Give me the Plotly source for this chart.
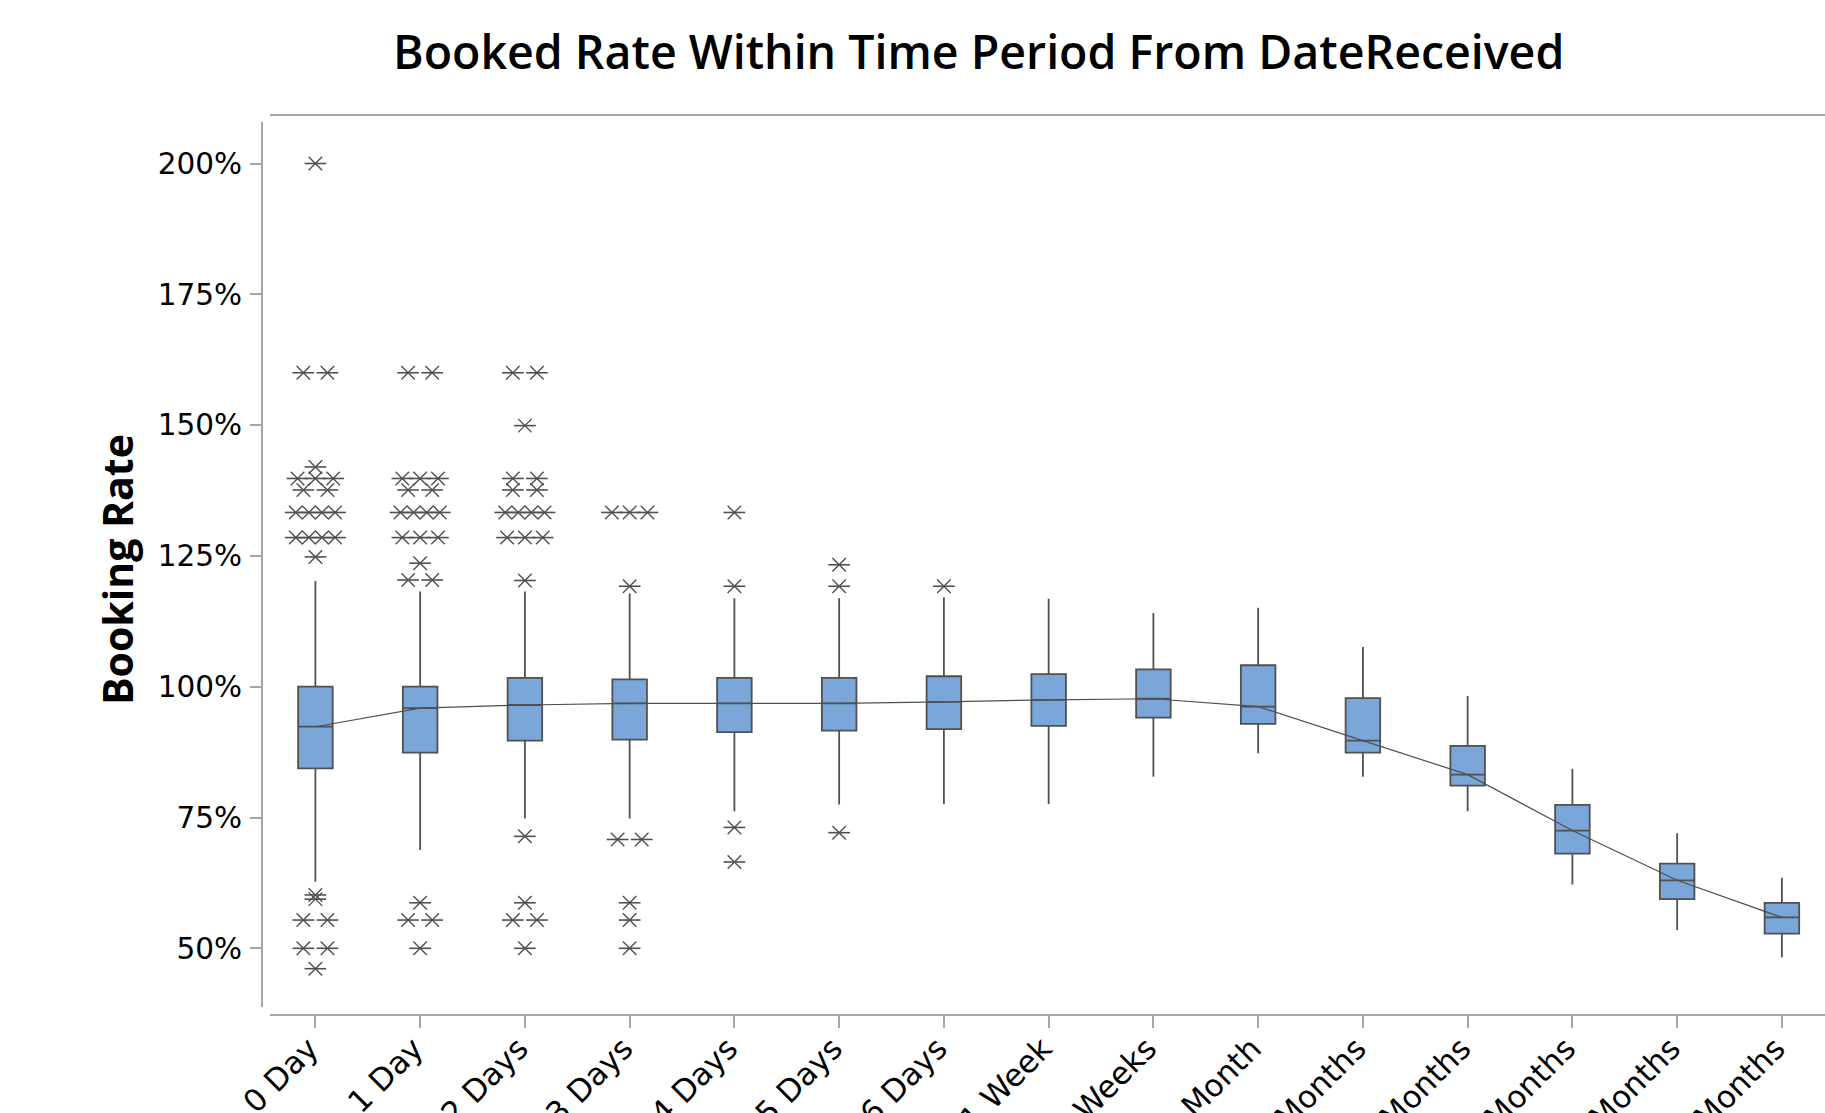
import plotly.graph_objects as go

# ---------------- data ----------------
categories = ["0 Day", "1 Day", "2 Days", "3 Days", "4 Days", "5 Days", "6 Days",
              "1 Week", "2 Weeks", "1 Month", "2 Months", "3 Months", "4 Months",
              "5 Months", "6 Months"]
q1 = [84.4, 87.4, 89.7, 89.9, 91.3, 91.6, 91.9, 92.5, 94.1, 92.9, 87.4, 81.1, 68.1, 59.4, 52.8]
median = [92.35, 95.9, 96.5, 96.8, 96.8, 96.8, 97.1, 97.5, 97.7, 96.2, 89.7, 83.2, 72.5, 63.0, 55.9]
q3 = [100.0, 100.0, 101.7, 101.4, 101.7, 101.7, 102.0, 102.4, 103.3, 104.1, 97.8, 88.7, 77.4, 66.2, 58.7]
whisker_low = [62.7, 68.8, 74.8, 74.8, 76.2, 77.5, 77.6, 77.6, 82.8, 87.3, 82.8, 76.2, 62.2, 53.5, 48.3]
whisker_high = [120.2, 118.2, 118.2, 117.8, 116.9, 116.9, 117.1, 116.8, 114.1, 115.1, 107.6, 98.2, 84.3, 72.0, 63.5]

# outliers: category index, value (%), number of identical points
outlier_cat = [0, 0, 0, 0, 0, 0, 0, 0, 0, 0, 0, 0, 0,
               1, 1, 1, 1, 1, 1, 1, 1, 1, 1,
               2, 2, 2, 2, 2, 2, 2, 2, 2, 2, 2,
               3, 3, 3, 3, 3, 3,
               4, 4, 4, 4,
               5, 5, 5,
               6]
outlier_val = [200.0, 160.0, 142.0, 139.8, 137.6, 133.3, 128.5, 124.8, 60.2, 59.4, 55.4, 50.0, 46.1,
               160.0, 139.8, 137.6, 133.3, 128.5, 123.6, 120.4, 58.7, 55.4, 50.0,
               160.0, 149.9, 139.8, 137.6, 133.3, 128.5, 120.3, 71.4, 58.7, 55.4, 50.0,
               133.3, 119.2, 70.8, 58.7, 55.4, 50.0,
               133.3, 119.2, 73.1, 66.5,
               123.3, 119.2, 72.1,
               119.2]
outlier_n = [1, 2, 1, 3, 2, 4, 4, 1, 1, 1, 2, 2, 1,
             2, 3, 2, 4, 3, 1, 2, 1, 2, 1,
             2, 1, 2, 2, 4, 3, 1, 1, 1, 2, 1,
             3, 1, 2, 1, 1, 1,
             1, 1, 1, 1,
             1, 1, 1,
             1]

y_tick_vals = [50, 75, 100, 125, 150, 175, 200]
y_tick_text = ["50%", "75%", "100%", "125%", "150%", "175%", "200%"]

title_text = "Booked Rate Within Time Period From DateReceived"
y_title = "Booking Rate"

# ---------------- layout constants ----------------
W, H = 1825, 1113
ML, MR, MT, MB = 262, 0, 115, 98
PW, PH = W - ML - MR, H - MT - MB

# dodge identical outliers side by side
spacing = {1: 0.0, 2: 0.23, 3: 0.17, 4: 0.125}
ox, oy = [], []
for c, v, n in zip(outlier_cat, outlier_val, outlier_n):
    for k in range(n):
        ox.append(c + (k - (n - 1) / 2) * spacing[n])
        oy.append(v)

xpos = list(range(len(categories)))
ink = "#505050"

fig = go.Figure()
fig.add_trace(go.Box(
    x=xpos, q1=q1, median=median, q3=q3,
    lowerfence=whisker_low, upperfence=whisker_high,
    boxpoints=False, width=0.33, whiskerwidth=0,
    fillcolor="#7BA6D9", line=dict(color=ink, width=1.8),
    showlegend=False, hoverinfo="skip"))
fig.add_trace(go.Scatter(
    x=xpos, y=median, mode="lines",
    line=dict(color=ink, width=1.2), showlegend=False, hoverinfo="skip"))
fig.add_trace(go.Scatter(
    x=ox, y=oy, mode="markers",
    marker=dict(symbol="line-ew-open", size=15.5, color=ink, line=dict(color=ink, width=1.6)),
    showlegend=False, hoverinfo="skip"))
fig.add_trace(go.Scatter(
    x=ox, y=oy, mode="markers",
    marker=dict(symbol="x-thin-open", size=13.5, color=ink, line=dict(color=ink, width=1.4)),
    showlegend=False, hoverinfo="skip"))

cat0_px, cat_step = 315.4, 104.75
x_lo = (ML - cat0_px) / cat_step
x_hi = (W - MR - cat0_px) / cat_step
px_per_pct = 5.232
y100 = 686.7
y_top = 100 + (y100 - MT) / px_per_pct
y_bot = 100 + (y100 - (H - MB)) / px_per_pct

axis_grey = "#A6A6A6"
fig.update_xaxes(range=[x_lo, x_hi], tickvals=xpos, ticktext=categories, tickangle=-45,
                 ticks="outside", ticklen=12, tickwidth=2, tickcolor=axis_grey,
                 showline=False, showgrid=False, zeroline=False, automargin=False,
                 ticklabelshift=-6, ticklabelstandoff=-10,
                 tickfont=dict(family="DejaVu Sans", size=31, color="black"))
fig.update_yaxes(range=[y_bot, y_top], tickvals=y_tick_vals, ticktext=y_tick_text,
                 ticks="outside", ticklen=11, tickwidth=2, tickcolor=axis_grey,
                 showline=False, showgrid=False, zeroline=False, automargin=False,
                 ticklabelstandoff=2,
                 tickfont=dict(family="DejaVu Sans", size=29.5, color="black"))

def px(xp):
    return (xp - ML) / PW

def py(yp):
    return (H - MB - yp) / PH

shapes = [
    dict(type="line", xref="paper", yref="paper", x0=px(262), x1=px(262), y0=py(122), y1=py(1007),
         line=dict(color=axis_grey, width=2)),
    dict(type="line", xref="paper", yref="paper", x0=px(270), x1=1.0, y0=py(1015), y1=py(1015),
         line=dict(color=axis_grey, width=2)),
    dict(type="line", xref="paper", yref="paper", x0=px(270), x1=1.0, y0=py(115), y1=py(115),
         line=dict(color=axis_grey, width=2)),
]

annotations = [
    dict(text=title_text, xref="paper", yref="paper", x=px(978), y=py(51),
         xanchor="center", yanchor="middle", showarrow=False,
         font=dict(family="Open Sans", size=46.5, color="black", weight=600)),
    dict(text=y_title, xref="paper", yref="paper", x=px(117), y=py(570),
         xanchor="center", yanchor="middle", showarrow=False, textangle=-90,
         font=dict(family="Open Sans", size=41, color="black", weight=700)),
]

fig.update_layout(width=W, height=H, margin=dict(l=ML, r=MR, t=MT, b=MB, pad=0),
                  paper_bgcolor="white", plot_bgcolor="white",
                  shapes=shapes, annotations=annotations)

fig.write_html("out.html", config={"displayModeBar": False},
               post_script="document.body.style.margin='0';")
